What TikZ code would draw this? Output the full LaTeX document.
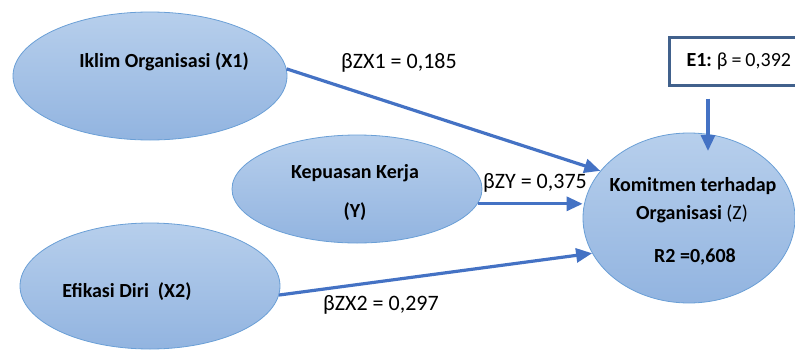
\documentclass[tikz,border=0pt]{standalone}
\usepackage{fontspec}
\setmainfont{Carlito}
\usetikzlibrary{shapes.geometric,arrows.meta}
\definecolor{elltop}{HTML}{B7CFEC}
\definecolor{ellbot}{HTML}{92B4E0}
\definecolor{ellline}{HTML}{6A9FD6}
\definecolor{arrblue}{HTML}{4472C4}
\definecolor{boxline}{HTML}{41618C}
\begin{document}
\begin{tikzpicture}[x=1pt,y=-1pt,
  latent/.style={ellipse, draw=ellline, line width=0.8pt, top color=elltop, bottom color=ellbot, inner sep=0pt},
  lbl/.style={font=\fontsize{20}{22}\selectfont\bfseries, text=black, inner sep=0pt},
  coef/.style={font=\fontsize{22}{24}\selectfont, text=black, inner sep=0pt},
  errbox/.style={draw=boxline, line width=3pt, fill=white, font=\fontsize{20}{22}\selectfont,
      text=black, inner xsep=17pt, inner ysep=0pt, text width=140pt, align=left, minimum height=48pt},
  arr/.style={draw=arrblue, line width=3.2pt, -{Triangle[length=16pt,width=14pt]}}]
\useasboundingbox (0,0) rectangle (795,351);
% latent variables
\node[latent, minimum width=274pt, minimum height=128pt] (x1) at (150,76) {};
\node[latent, minimum width=250pt, minimum height=108pt] (y) at (357,189) {};
\node[latent, minimum width=260pt, minimum height=126pt] (x2) at (150,286) {};
\node[latent, minimum width=212pt, minimum height=170pt] (z) at (689,218) {};
% texts
\node[lbl] (tx1) at (164,62) {Iklim Organisasi (X1)};
\node[lbl] (ty1) at (355,173) {Kepuasan Kerja};
\node[lbl] (ty2) at (355,212) {(Y)};
\node[lbl] (tx2) at (127,292) {Efikasi Diri\ \ (X2)};
\node[lbl] (tz1) at (693,186) {Komitmen terhadap};
\node[lbl] (tz2) at (692,214) {Organisasi \mdseries(Z)};
\node[lbl] (tz3) at (695,257) {R2 =0,608};
% error box
\node[errbox, anchor=west] (e1) at (668,61) {\textbf{E1:}\hspace{5pt}β\hspace{4pt}=\hspace{4pt}0,392};
% coefficient labels
\node[coef, anchor=west] (c1) at (341,63) {βZX1 = 0,185};
\node[coef, anchor=west] (c2) at (483,183) {βZY = 0,375};
\node[coef, anchor=west] (c3) at (323,305) {βZX2 = 0,297};
% paths
\coordinate (zin) at (708,151);
\draw[arr] (x1.3) -- (z.152);
\draw[arr] (y.-7) -- (y.-7 -| z.west);
\draw[arr] (x2.-4) -- (z.200);
\draw[arr, shorten <=12pt] (zin |- e1.south) -- (zin);
\end{tikzpicture}
\end{document}
